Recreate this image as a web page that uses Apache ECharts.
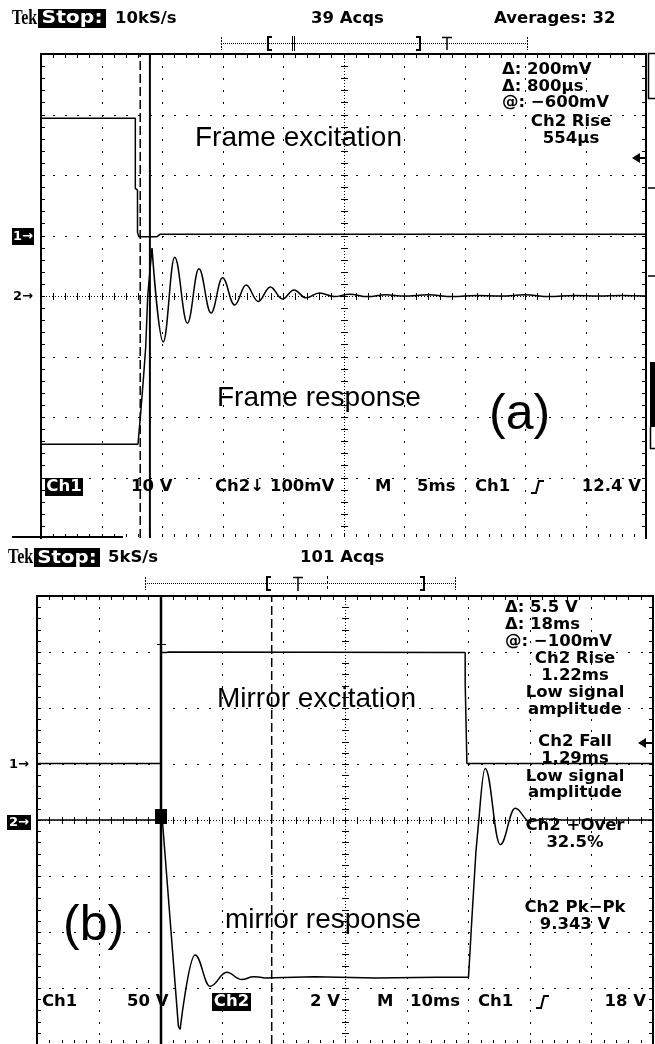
<!DOCTYPE html>
<html><head><meta charset="utf-8">
<script src="https://cdn.jsdelivr.net/npm/echarts@6/dist/echarts.min.js"></script>
<style>html,body{margin:0;padding:0;background:#fff;}#c{width:655px;height:1044px;}</style>
</head><body><div id="c"></div>
<script>
// ---------- DATA (screen divisions: x 0..10, y -4..4) ----------
// Panel (a) — frame
const frameExcitation = [[0,2.94],[1.559,2.94],[1.559,1.78],[1.595,1.75],[1.595,1.05],[1.62,0.98],[1.917,0.98],[1.967,1.02],[10,1.02]];
const frameResponseEdge = [[0,-2.45],[1.603,-2.45],[1.648,-1.93],[1.691,-1.39],[1.731,-0.84],[1.764,0],[1.797,0.38],[1.835,0.79]];
const frameResponseRing = [[1.835,0.79],[2.02,-0.76],[2.21,0.64],[2.42,-0.45],[2.61,0.45],[2.81,-0.28],[3.0,0.30],[3.20,-0.15],[3.39,0.18],[3.59,-0.09],[3.79,0.15],[3.99,-0.05],[4.18,0.10],[4.38,-0.03],[4.6,0.05],[4.85,-0.01],[5.1,0.03],[5.4,-0.01],[5.7,0.02],[6.0,0.0],[6.4,0.02],[6.8,-0.01],[7.2,0.01],[7.6,0.0],[8.0,0.02],[8.4,-0.01],[8.8,0.01],[9.2,0.0],[9.6,0.01],[10,0.0]];
const frameCursors = [1.64, 1.80];   // dashed, solid

// Panel (b) — mirror
const mirrorExcitation = [[0,1.01],[2.013,1.01],[2.013,2.99],[2.10,2.99],[2.14,3.0],[6.951,2.99],[6.951,2.45],[6.979,2.45],[6.979,1.01],[10,1.01]];
const mirrorResponseFall = [[0,0],[2.035,0],[2.295,-3.68],[2.323,-3.74]];
const mirrorResponseRing1 = [[2.323,-3.74],[2.566,-2.41],[2.81,-2.97],[3.08,-2.72],[3.325,-2.85],[3.51,-2.80],[3.7,-2.82]];
const mirrorResponseFlat = [[3.7,-2.82],[4.5,-2.80],[5.5,-2.82],[6.5,-2.81],[7.005,-2.81],[7.06,-1.76],[7.125,-0.57],[7.184,0.14]];
const mirrorResponseRing2 = [[7.184,0.14],[7.276,0.92],[7.52,-0.44],[7.763,0.21],[8.0,-0.03],[8.25,0.02],[8.6,0],[10,0]];
const mirrorCursors = [2.013, 3.81]; // solid, dashed

// ---------- TEXTS ----------
const headerA = ['Tek','Stop:','10kS/s','39 Acqs','Averages: 32'];
const headerB = ['Tek','Stop:','5kS/s','101 Acqs'];
const measA = ['Δ: 200mV','Δ: 800µs','@: −600mV','Ch2 Rise','554µs'];
const measB = ['Δ: 5.5 V','Δ: 18ms','@: −100mV','Ch2 Rise','1.22ms','Low signal','amplitude','Ch2 Fall','1.29ms','Low signal','amplitude','Ch2 +Over','32.5%','Ch2 Pk−Pk','9.343 V'];
const statusA = ['Ch1','10 V','Ch2↓ 100mV','M','5ms','Ch1','12.4 V'];
const statusB = ['Ch1','50 V','Ch2','2 V','M','10ms','Ch1','18 V'];
const labelsA = ['Frame excitation','Frame response','(a)'];
const labelsB = ['Mirror excitation','mirror response','(b)'];

// ---------- RENDER ----------
const chart = echarts.init(document.getElementById('c'), null, {renderer:'canvas'});
const SF = 'bold 16.5px "DejaVu Sans"';
const AF = '28px "Liberation Sans"';
const TF = 'bold 21px "Liberation Serif"';
const g = [];
function txt(s,x,y,align,font,fill,sx){ g.push({type:'text',z:100,x:x,y:y,scaleX:sx||1,style:{text:s,font:font||SF,fill:fill||'#000',align:align||'left',verticalAlign:'middle'}}); }
function box(x,y,w,h,fill){ g.push({type:'rect',z:99,shape:{x:x,y:y,width:w,height:h},style:{fill:fill||'#000'}}); }
function pl(pts,w,dash){ g.push({type:'polyline',z:99,shape:{points:pts},style:{stroke:'#000',lineWidth:w||1,lineDash:dash||null,fill:null}}); }
function poly(pts){ g.push({type:'polygon',z:99,shape:{points:pts},style:{fill:'#000'}}); }

// header (a)
txt(headerA[0],12,18.5,'left',TF,'#000',0.76);
box(38,9,68,19); txt(headerA[1],72,18.5,'center','bold 18px "DejaVu Sans"','#fff',1.13);
txt(headerA[2],115,18.5); txt(headerA[3],311,18.5); txt(headerA[4],494,18.5);
// trigger bar (a)
pl([[221,43.5],[527,43.5]],1,[1,1]);
pl([[221.5,37],[221.5,50]],1,[2,1]); pl([[527.5,37],[527.5,50]],1,[2,1]);
pl([[272,37],[268,37],[268,50],[272,50]],2);
pl([[292.5,36],[292.5,51]],1); pl([[294.5,36],[294.5,51]],1);
pl([[416,37],[420,37],[420,50],[416,50]],2);
pl([[442,37.5],[452,37.5]],1.5); pl([[447,37],[447,50]],1.5);

// header (b)
txt(headerB[0],8,558,'left',TF,'#000',0.76);
box(34,548,66,19); txt(headerB[1],67,558,'center','bold 18px "DejaVu Sans"','#fff',1.1);
txt(headerB[2],108,558); txt(headerB[3],300,558);
pl([[145,583.5],[455,583.5]],1,[1,1]);
pl([[145.5,577],[145.5,590]],1,[2,1]); pl([[455.5,577],[455.5,590]],1,[2,1]);
pl([[271,577],[267,577],[267,590],[271,590]],2);
pl([[293,577.5],[303,577.5]],1.5); pl([[298,577],[298,591]],1.5);
pl([[327.5,576],[327.5,591]],1,[3,2]);
pl([[420,577],[424,577],[424,590],[420,590]],2);

// measurements (a)
txt(measA[0],502,70); txt(measA[1],502,87); txt(measA[2],502,103);
txt(measA[3],571,122,'center'); txt(measA[4],571,139,'center');
// measurements (b)
txt(measB[0],505,608); txt(measB[1],505,625); txt(measB[2],505,642);
const mbY = [659,676,693,710,742,759,777,793,826,843,908,925];
for (let i=3;i<measB.length;i++) txt(measB[i],575,mbY[i-3],'center');

// status (a)
box(45,478,38,18); txt(statusA[0],64,487,'center',SF,'#fff');
txt(statusA[1],131,487); txt(statusA[2],215,487); txt(statusA[3],375,487);
txt(statusA[4],417,487); txt(statusA[5],475,487); txt(statusA[6],641,487,'right');
pl([[531,493],[536,493],[539,481],[544,481]],2);
// status (b)
txt(statusB[0],42,1002); txt(statusB[1],127,1002);
box(212,993,39,18); txt(statusB[2],231.5,1002,'center',SF,'#fff');
txt(statusB[3],310,1002); txt(statusB[4],377,1002); txt(statusB[5],410,1002);
txt(statusB[6],478,1002); txt(statusB[7],646,1002,'right');
pl([[536,1008],[541,1008],[544,996],[549,996]],2);

// annotations
txt(labelsA[0],195,138,'left',AF); txt(labelsA[1],217,398,'left',AF);
txt(labelsA[2],489,415,'left','50px "Liberation Sans"');
txt(labelsB[0],217,699,'left',AF); txt(labelsB[1],225,920,'left',AF);
txt(labelsB[2],63,926,'left','50px "Liberation Sans"');

// channel markers
const MF = 'bold 13px "DejaVu Sans"';
box(12,228,22,17); txt('1→',23,236.5,'center',MF,'#fff');
txt('2→',13,297,'left',MF);
txt('1→',9,765,'left',MF);
box(7,815,24,15); txt('2→',19,822.5,'center',MF,'#fff');
// right-edge arrows and marks
poly([[632,158],[640,153],[640,163]]); pl([[640,158],[646,158]],2);
poly([[638,743],[646,738],[646,748]]); pl([[646,743],[652,743]],2);
pl([[655,53.5],[648.5,53.5],[648.5,98.5],[655,98.5]],1.5);
pl([[648,188],[655,188]],1.5); pl([[648,276],[655,276]],1.5);
box(650,362,6,65); pl([[650.5,427],[650.5,448.5],[655,448.5]],1.5);
box(12,536,111,2);
// cursor readout markers (b)
pl([[157,644.5],[166,644.5]],1);
box(155,809,12,15); pl([[158,813.5],[164,813.5]],1);

function makeGrat(){
  return function(params, api){
    const a = api.coord([0,4]), b = api.coord([10,-4]);
    const x0=a[0], y0=a[1], x1=b[0], y1=b[1];
    const dx=(x1-x0)/10, dy=(y1-y0)/8;
    const ch=[];
    const R=(x,y,w,h)=>ch.push({type:'rect',shape:{x:Math.round(x),y:Math.round(y),width:w,height:h},style:{fill:'#000'}});
    R(x0-1,y0-1,x1-x0+2,2); R(x0-1,y0-1,2,y1-y0+2); R(x1-1,y0-1,2,y1-y0+2);
    for(let k=1;k<50;k++){ const x=x0+k*dx/5; R(x,y0+1,1,3); R(x,y1-4,1,3); }
    for(let k=1;k<40;k++){ const y=y0+k*dy/5; R(x0+1,y,3,1); R(x1-4,y,3,1); }
    for(let i=1;i<10;i++){ if(i===5) continue; const x=x0+i*dx; for(let k=1;k<40;k++) R(x,y0+k*dy/5,1,2); }
    for(let j=1;j<8;j++){ if(j===4) continue; const y=y0+j*dy; for(let k=1;k<50;k++) R(x0+k*dx/5,y,2,1); }
    const xc=x0+5*dx, yc=y0+4*dy;
    for(let t=y0+2;t<y1;t+=3) R(xc,t,1,1);
    for(let t=x0+2;t<x1;t+=3) R(t,yc,1,1);
    for(let k=1;k<40;k++) R(xc-3,y0+k*dy/5,7,1);
    for(let k=1;k<50;k++) R(x0+k*dx/5,yc-3,1,7);
    return {type:'group',children:ch};
  };
}
function trace(data, gi, o){ o=o||{}; return {type:'line',xAxisIndex:gi,yAxisIndex:gi,data:data,showSymbol:false,symbol:'none',
  smooth:o.smooth||false,smoothMonotone:o.mono,lineStyle:{color:'#000',width:o.w||1.5,type:o.dash||'solid'},z:3,silent:true,animation:false}; }
function cursor(x, gi, dashed, w){ return trace([[x,-4],[x,4]], gi, {dash: dashed?[9,4]:'solid', w:w}); }

chart.setOption({
  animation:false,
  grid:[{left:41,top:54,width:605,height:484},{left:37,top:596,width:616,height:450}],
  xAxis:[{type:'value',gridIndex:0,min:0,max:10,show:false},{type:'value',gridIndex:1,min:0,max:10,show:false}],
  yAxis:[{type:'value',gridIndex:0,min:-4,max:4,show:false},{type:'value',gridIndex:1,min:-4,max:4,show:false}],
  graphic:{elements:g},
  series:[
    {type:'custom',xAxisIndex:0,yAxisIndex:0,data:[[5,0]],renderItem:makeGrat(),silent:true,z:1,clip:false},
    {type:'custom',xAxisIndex:1,yAxisIndex:1,data:[[5,0]],renderItem:makeGrat(),silent:true,z:1,clip:false},
    cursor(frameCursors[0],0,true,1.5), cursor(frameCursors[1],0,false,2),
    cursor(mirrorCursors[0],1,false,2.5), cursor(mirrorCursors[1],1,true,1.5),
    trace(frameExcitation,0),
    trace(frameResponseEdge,0),
    trace(frameResponseRing,0,{smooth:0.4,mono:'x'}),
    trace(mirrorExcitation,1),
    trace(mirrorResponseFall,1),
    trace(mirrorResponseRing1,1,{smooth:0.4,mono:'x'}),
    trace(mirrorResponseFlat,1),
    trace(mirrorResponseRing2,1,{smooth:0.4,mono:'x'})
  ]
});
</script></body></html>
